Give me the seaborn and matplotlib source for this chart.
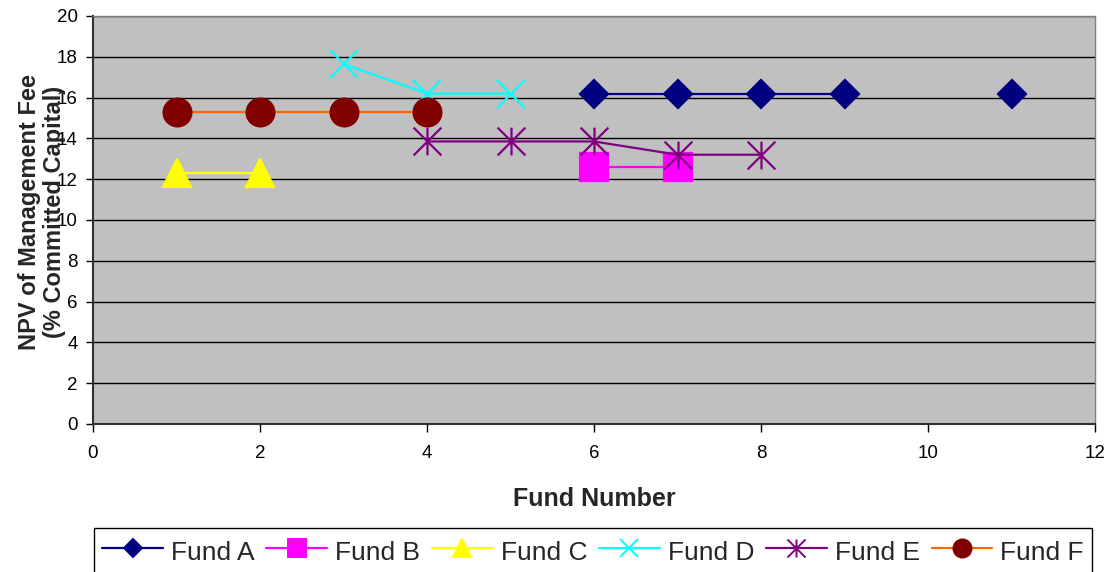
import numpy as np
import pandas as pd
import matplotlib
matplotlib.use("Agg")
import matplotlib.pyplot as plt
from matplotlib.path import Path
from matplotlib.lines import Line2D
import seaborn as sns

# Fund number vs NPV of management fee (% of committed capital)
fund_names = ["Fund A", "Fund B", "Fund C", "Fund D", "Fund E", "Fund F"]
fund_a_x = [6, 7, 8, 9, 11]
fund_a_y = [16.2, 16.2, 16.2, 16.2, 16.2]
fund_b_x = [6, 7]
fund_b_y = [12.6, 12.6]
fund_c_x = [1, 2]
fund_c_y = [12.3, 12.3]
fund_d_x = [3, 4, 5]
fund_d_y = [17.65, 16.2, 16.2]
fund_e_x = [4, 5, 6, 7, 8]
fund_e_y = [13.85, 13.85, 13.85, 13.2, 13.2]
fund_f_x = [1, 2, 3, 4]
fund_f_y = [15.3, 15.3, 15.3, 15.3]

x_ticks = [0, 2, 4, 6, 8, 10, 12]
y_ticks = [0, 2, 4, 6, 8, 10, 12, 14, 16, 18, 20]

series_x = [fund_a_x, fund_b_x, fund_c_x, fund_d_x, fund_e_x, fund_f_x]
series_y = [fund_a_y, fund_b_y, fund_c_y, fund_d_y, fund_e_y, fund_f_y]

frames = []
for name, xs, ys in zip(fund_names, series_x, series_y):
    xs = np.asarray(xs)
    # consecutive fund numbers are joined; a skipped number breaks the line
    run = np.concatenate([[0], np.cumsum(np.diff(xs) != 1)])
    frames.append(pd.DataFrame({"fund": name, "x": xs, "y": ys, "run": run}))
df = pd.concat(frames, ignore_index=True)

# asterisk marker: vertical bar plus an X
asterisk = Path([(0, -1), (0, 1), (-1, -1), (1, 1), (-1, 1), (1, -1)],
                [Path.MOVETO, Path.LINETO, Path.MOVETO, Path.LINETO,
                 Path.MOVETO, Path.LINETO])

styles = {
    "Fund A": dict(color="#000080", marker="D", ms=14.3, mfc="#000080", mec="#000080", lms=9),
    "Fund B": dict(color="#FF00FF", marker="s", ms=20, mfc="#FF00FF", mec="#FF00FF", lms=13),
    "Fund C": dict(color="#FFFF00", marker="^", ms=20, mfc="#FFFF00", mec="#FFFF00", lms=13),
    "Fund D": dict(color="#00FFFF", marker="x", ms=20, mfc="none", mec="#00FFFF", lms=13),
    "Fund E": dict(color="#800080", marker=asterisk, ms=20, mfc="none", mec="#800080", lms=13),
    "Fund F": dict(color="#FF6600", marker="o", ms=20, mfc="#800000", mec="#800000", lms=13),
}

sns.set_style("white")
plt.rcParams["font.family"] = ["Liberation Sans", "DejaVu Sans"]

fig = plt.figure(figsize=(11.11, 5.72), dpi=100)
ax = fig.add_axes([93 / 1111, 1 - 424 / 572, 1002 / 1111, 408 / 572])
ax.set_facecolor("#C0C0C0")

for name in fund_names:
    st = styles[name]
    sub = df[df["fund"] == name]
    sns.lineplot(data=sub, x="x", y="y", units="run", estimator=None, sort=False,
                 ax=ax, legend=False, color=st["color"], linewidth=1.6,
                 marker=st["marker"], markersize=st["ms"],
                 markerfacecolor=st["mfc"], markeredgecolor=st["mec"],
                 markeredgewidth=1.6)

ax.set_xlim(0, 12)
ax.set_ylim(0, 20)
ax.set_xticks(x_ticks)
ax.set_yticks(y_ticks)
ax.set_xticklabels([str(v) for v in x_ticks])
ax.set_yticklabels([str(v) for v in y_ticks])
ax.yaxis.grid(True, color="black", linewidth=1.0)
ax.xaxis.grid(False)
ax.set_axisbelow(True)

ax.tick_params(axis="both", which="major", direction="out", length=5, width=1,
               color="black", labelsize=13.5, labelcolor="black")
ax.tick_params(axis="x", pad=9, length=6)
ax.tick_params(axis="y", pad=6)
ax.xaxis.set_ticks_position("bottom")
ax.yaxis.set_ticks_position("left")

for side in ("left", "bottom"):
    ax.spines[side].set_color("#303030")
    ax.spines[side].set_linewidth(1.5)
for side in ("top", "right"):
    ax.spines[side].set_color("#808080")
    ax.spines[side].set_linewidth(1.0)

ax.set_xlabel("Fund Number", fontsize=18, fontweight="bold", labelpad=18)
ax.set_ylabel("NPV of Management Fee\n(% Committed Capital)", fontsize=17,
              fontweight="bold", linespacing=1.1)
ax.yaxis.set_label_coords(-0.027, 0.52)

handles = []
for name in fund_names:
    st = styles[name]
    handles.append(Line2D([], [], color=st["color"], linewidth=1.6,
                          marker=st["marker"], markersize=st["lms"],
                          markerfacecolor=st["mfc"], markeredgecolor=st["mec"],
                          markeredgewidth=1.4))
leg = fig.legend(handles, fund_names, loc="upper center", ncol=6,
                 bbox_to_anchor=(593 / 1111, 1 - 528 / 572), fontsize=19,
                 frameon=True, fancybox=False, framealpha=1, edgecolor="black",
                 handlelength=2.3, handletextpad=0.3, columnspacing=0.45,
                 handleheight=1.4, borderpad=0.3, borderaxespad=0)
leg.get_frame().set_linewidth(1.0)

fig.savefig("out.png", dpi=100, facecolor="white")
